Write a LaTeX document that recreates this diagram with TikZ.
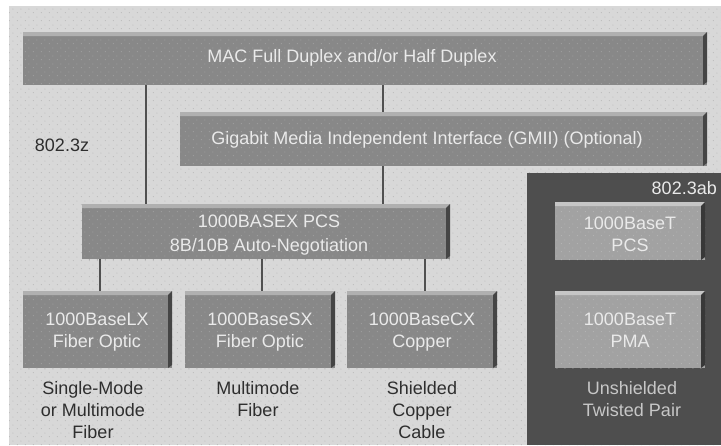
\documentclass[tikz,border=0pt]{standalone}
\usepackage{fontspec}
\setmainfont{Liberation Sans}
\usetikzlibrary{calc,patterns.meta}

\definecolor{paper}{HTML}{D8D8D8}
\definecolor{paperdot}{HTML}{B6B6B6}
\definecolor{boxgray}{HTML}{888888}
\definecolor{boxdot}{HTML}{A4A4A4}
\definecolor{boxtop}{HTML}{B0B0B0}
\definecolor{boxside}{HTML}{454545}
\definecolor{panel}{HTML}{4E4E4E}
\definecolor{tgray}{HTML}{A2A2A2}
\definecolor{tdot}{HTML}{BABABA}
\definecolor{ttop}{HTML}{C6C6C6}
\definecolor{tside}{HTML}{383838}
\definecolor{wire}{HTML}{505050}
\definecolor{boxtext}{HTML}{EAEAEA}
\definecolor{labeltext}{HTML}{2E2E2E}

% stipple fill
\tikzdeclarepattern{
  name=stipple,
  type=uncolored,
  bounding box={(0pt,0pt) and (8pt,8pt)},
  tile size={(8pt,8pt)},
  code={
    \fill (1.5pt,1.5pt) circle (0.6pt);
    \fill (5.5pt,5.5pt) circle (0.6pt);
  }
}

\tikzset{
  layer/.style={rectangle, fill=boxgray, inner sep=0pt, outer sep=0pt},
  tlayer/.style={rectangle, fill=tgray, inner sep=0pt, outer sep=0pt},
  boxlabel/.style={text=boxtext, align=center, inner sep=0pt,
    font=\fontsize{18}{22}\selectfont},
  caption/.style={text=labeltext, align=center, inner sep=0pt,
    font=\fontsize{18}{22}\selectfont},
  wirelink/.style={draw=wire, line width=2pt},
}

% stipple over a box, then its bevelled edges: light top face, dark right face
\newcommand\bevel[4]{%
  \fill[pattern=stipple, pattern color=#4] (#1.north west) rectangle (#1.south east);
  \fill[#2] (#1.north west) -- (#1.north east) -- ($(#1.north east)+(-4,4)$)
    -- ($(#1.north west)+(0,4)$) -- cycle;
  \fill[#3] (#1.north east) -- ($(#1.south east)+(0,-3)$) -- ($(#1.south east)+(-4,0)$)
    -- ($(#1.north east)+(-4,4)$) -- cycle;
}

\begin{document}
\begin{tikzpicture}[x=1pt, y=-1pt]
  \useasboundingbox (0,0) rectangle (721,445);
  \fill[white] (0,0) rectangle (721,445);
  \fill[paper] (9,6) rectangle (721,445);
  \fill[pattern=stipple, pattern color=paperdot] (9,6) rectangle (721,445);

  % 802.3ab panel
  \fill[panel] (527,173) rectangle (721,445);

  % coordinates of the vertical links
  \coordinate (cl) at (146,0);
  \coordinate (cr) at (383,0);
  \coordinate (c1) at (100,0);
  \coordinate (c2) at (262,0);
  \coordinate (c3) at (425,0);

  % layer boxes
  \node[layer, minimum width=684pt, minimum height=53pt] (mac) at (365,58.5) {};
  \node[layer, minimum width=527pt, minimum height=54pt] (gmii) at (443.5,139) {};
  \node[layer, minimum width=368pt, minimum height=55pt] (pcs) at (266,231.5) {};
  \node[layer, minimum width=149pt, minimum height=77pt] (lx) at (97.5,329.5) {};
  \node[layer, minimum width=150pt, minimum height=77pt] (sx) at (260,329.5) {};
  \node[layer, minimum width=150pt, minimum height=77pt] (cx) at (422,329.5) {};
  \node[tlayer, minimum width=150pt, minimum height=58pt] (tpcs) at (630,231) {};
  \node[tlayer, minimum width=150pt, minimum height=77pt] (tpma) at (630,329.5) {};

  \bevel{mac}{boxtop}{boxside}{boxdot}
  \bevel{gmii}{boxtop}{boxside}{boxdot}
  \bevel{pcs}{boxtop}{boxside}{boxdot}
  \bevel{lx}{boxtop}{boxside}{boxdot}
  \bevel{sx}{boxtop}{boxside}{boxdot}
  \bevel{cx}{boxtop}{boxside}{boxdot}
  \bevel{tpcs}{ttop}{tside}{tdot}
  \bevel{tpma}{ttop}{tside}{tdot}

  % links between layers
  \draw[wirelink] (mac.south -| cl) -- (pcs.north -| cl);
  \draw[wirelink] (mac.south -| cr) -- (gmii.north -| cr);
  \draw[wirelink] (gmii.south -| cr) -- (pcs.north -| cr);
  \draw[wirelink] (pcs.south -| c1) -- (lx.north -| c1);
  \draw[wirelink] (pcs.south -| c2) -- (sx.north -| c2);
  \draw[wirelink] (pcs.south -| c3) -- (cx.north -| c3);

  % box texts
  \node[boxlabel] (mactext) at (352,58) {MAC Full Duplex and/or Half Duplex};
  \node[boxlabel] (gmiitext) at (427,140) {Gigabit Media Independent Interface (GMII) (Optional)};
  \node[boxlabel] (pcstext) at (269,235) {1000BASEX PCS\\[2pt]8B/10B Auto-Negotiation};
  \node[boxlabel] (lxtext) at (97,332.5) {1000BaseLX\\Fiber Optic};
  \node[boxlabel] (sxtext) at (260,332.5) {1000BaseSX\\Fiber Optic};
  \node[boxlabel] (cxtext) at (422,332.5) {1000BaseCX\\Copper};
  \node[boxlabel] (tpcstext) at (630,234.5) {1000BaseT\\PCS};
  \node[boxlabel] (tpmatext) at (630,330) {1000BaseT\\PMA};

  % standards and media
  \node[caption] (z) at (62,145) {802.3z};
  \node[boxlabel, anchor=east] (ab) at (717,188) {802.3ab};
  \node[caption] (m1) at (93,410) {Single-Mode\\or Multimode\\Fiber};
  \node[caption] (m2) at (258,399) {Multimode\\Fiber};
  \node[caption] (m3) at (422,410) {Shielded\\Copper\\Cable};
  \node[boxlabel, text=boxtext!85!black] (m4) at (632,399) {Unshielded\\Twisted Pair};
\end{tikzpicture}
\end{document}
